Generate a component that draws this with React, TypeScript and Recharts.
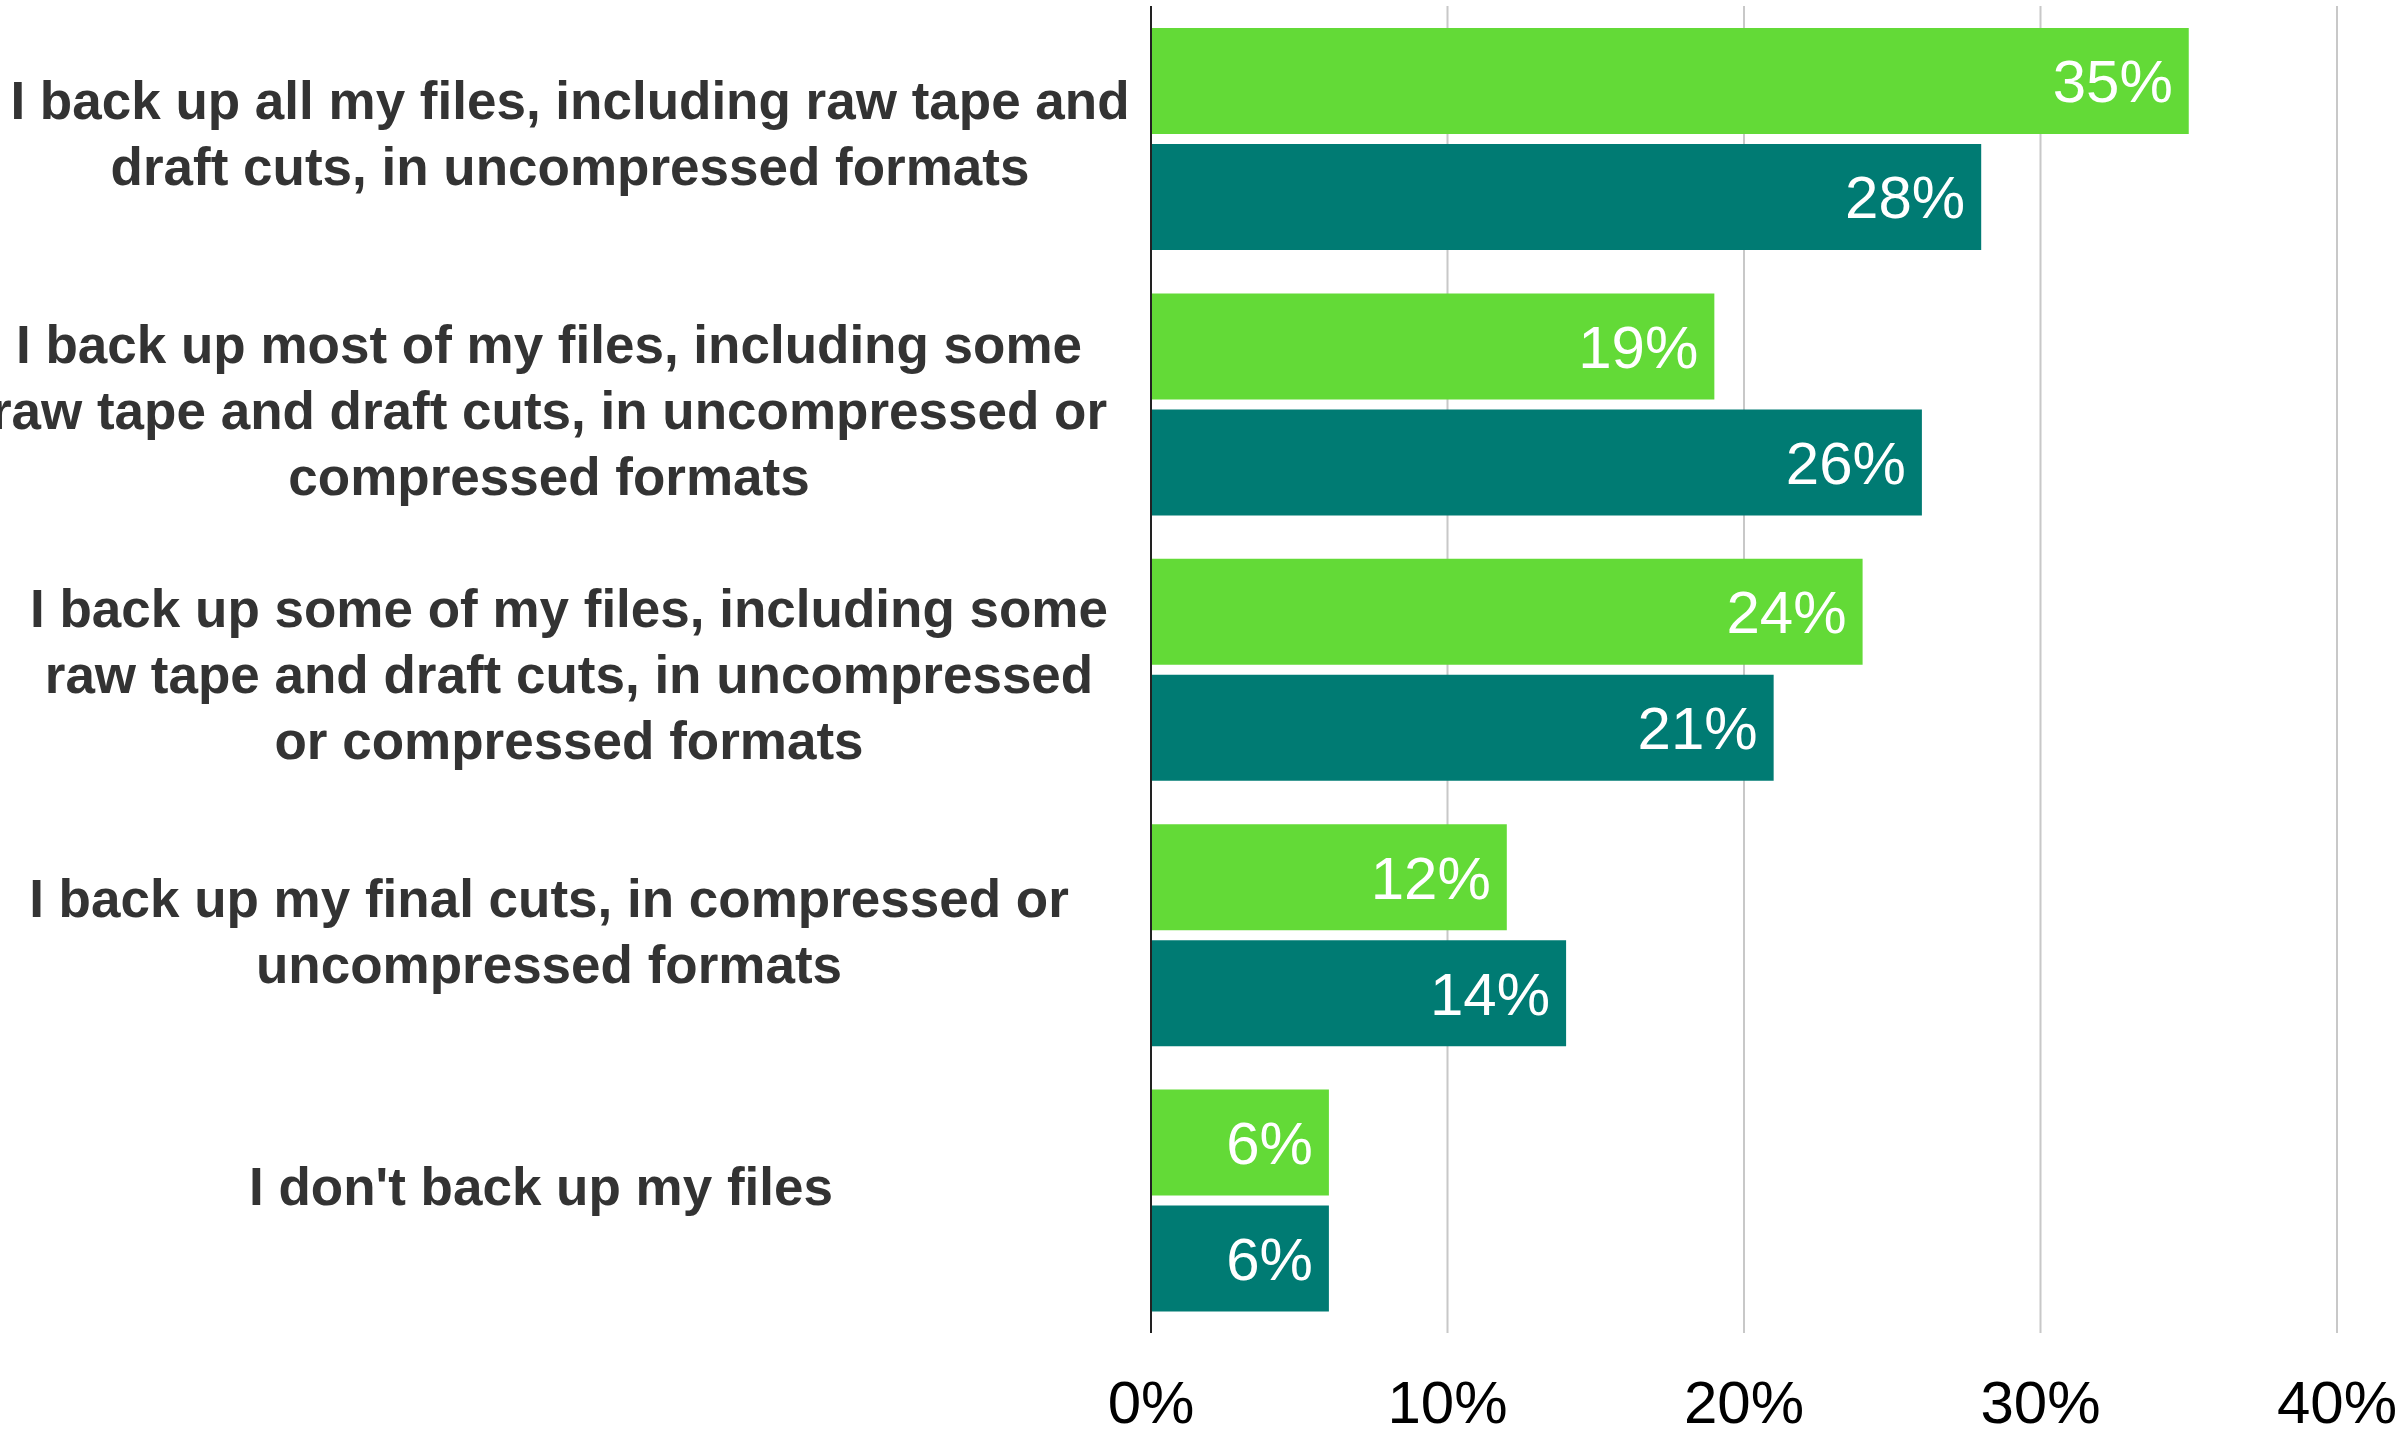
import { BarChart, Bar, XAxis, YAxis, CartesianGrid, LabelList } from "recharts"

const categories = [
  ["I back up all my files, including raw tape and", "draft cuts, in uncompressed formats"],
  [
    "I back up most of my files, including some",
    "raw tape and draft cuts, in uncompressed or",
    "compressed formats",
  ],
  [
    "I back up some of my files, including some",
    "raw tape and draft cuts, in uncompressed",
    "or compressed formats",
  ],
  ["I back up my final cuts, in compressed or", "uncompressed formats"],
  ["I don't back up my files"],
]

const greenValues = [35, 19, 24, 12, 6]
const tealValues = [28, 26, 21, 14, 6]
const xTicks = [0, 10, 20, 30, 40]

const data = categories.map((lines, i) => ({
  name: lines.join(" "),
  green: greenValues[i],
  teal: tealValues[i],
}))

const FONT = '"Liberation Sans", Arial, Helvetica, sans-serif'

// where each wrapped label block is centred (the source centres them a bit unevenly)
const labelCenterX = [570, 549, 569, 549, 541]
const labelShiftY = [-6, 6, 4, -4, -14]
const LINE_HEIGHT = 66

function CategoryTick(props: any) {
  const { y, payload } = props
  const idx = data.findIndex((d) => d.name === payload.value)
  const lines = categories[idx] ?? [String(payload.value)]
  const cx = labelCenterX[idx] ?? 560
  const cy = y + (labelShiftY[idx] ?? 0)
  return (
    <text
      x={cx}
      y={cy}
      textAnchor="middle"
      fill="#333333"
      fontSize={53}
      fontWeight={700}
      fontFamily={FONT}
    >
      {lines.map((line, i) => (
        <tspan key={i} x={cx} y={cy + (i - (lines.length - 1) / 2) * LINE_HEIGHT} dy={19}>
          {line}
        </tspan>
      ))}
    </text>
  )
}

export default function App() {
  return (
    <div style={{ position: "absolute", left: 0, top: 0, background: "#fff" }}>
      <BarChart
        width={2406}
        height={1434}
        data={data}
        layout="vertical"
        margin={{ top: 6, right: 69, bottom: 0, left: 0 }}
        barSize={106}
        barGap={10}
      >
        <CartesianGrid horizontal={false} stroke="#c8c8c8" strokeWidth={2} />
        <XAxis
          type="number"
          domain={[0, 40]}
          ticks={xTicks}
          tickFormatter={(v: number) => `${v}%`}
          axisLine={false}
          tickLine={false}
          tickSize={0}
          tickMargin={47}
          height={101}
          interval={0}
          tick={{ fontSize: 60, fill: "#000000", fontFamily: FONT }}
        />
        <YAxis
          type="category"
          dataKey="name"
          width={1151}
          axisLine={{ stroke: "#222222", strokeWidth: 2 }}
          tickLine={false}
          interval={0}
          tick={<CategoryTick />}
        />
        <Bar dataKey="green" fill="#63DA37" isAnimationActive={false}>
          <LabelList
            dataKey="green"
            position="insideRight"
            offset={16}
            formatter={(v: any) => `${v}%`}
            fill="#ffffff"
            fontSize={60}
            fontFamily={FONT}
          />
        </Bar>
        <Bar dataKey="teal" fill="#007B73" isAnimationActive={false}>
          <LabelList
            dataKey="teal"
            position="insideRight"
            offset={16}
            formatter={(v: any) => `${v}%`}
            fill="#ffffff"
            fontSize={60}
            fontFamily={FONT}
          />
        </Bar>
      </BarChart>
    </div>
  )
}
